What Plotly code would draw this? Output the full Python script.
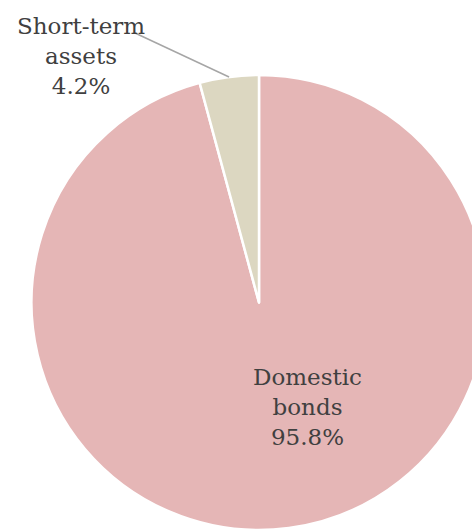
import math
import plotly.graph_objects as go

# ---- data ----
categories = ["Domestic bonds", "Short-term assets"]
display_labels = ["Domestic<br>bonds", "Short-term<br>assets"]
values = [95.8, 4.2]
colors = ["#E5B6B6", "#DCD7C1"]

# ---- layout geometry ----
W, H = 490, 535
dom_x = [31 / W, 487 / W]
dom_y = [1 - 530 / H, 1 - 75 / H]

FONT = "DejaVu Serif"
TXT = "#404040"

fig = go.Figure()
fig.add_trace(go.Pie(
    labels=categories,
    values=values,
    text=display_labels,
    sort=False,
    direction="clockwise",
    rotation=0,
    marker=dict(colors=colors, line=dict(color="white", width=2.5)),
    textinfo="none",
    hoverinfo="label+percent",
    domain=dict(x=dom_x, y=dom_y),
    showlegend=False,
))

# leader line target: edge of the short-term slice at its mid angle
cx = (dom_x[0] + dom_x[1]) / 2 * W
cy = (1 - (dom_y[0] + dom_y[1]) / 2) * H
R = min((dom_x[1] - dom_x[0]) * W, (dom_y[1] - dom_y[0]) * H) / 2
total = sum(values)
mid = 360 - values[1] / total * 360 / 2
hx = cx + R * math.sin(math.radians(mid))
hy = cy - R * math.cos(math.radians(mid))

fig.add_shape(type="line", xref="paper", yref="paper",
              x0=135 / W, y0=1 - 33 / H, x1=hx / W, y1=1 - hy / H,
              line=dict(color="#A6A6A6", width=1.5))
fig.add_annotation(xref="paper", yref="paper", x=81 / W, y=1 - 56 / H,
                   text=f"{display_labels[1]}<br>{values[1]:.1f}%",
                   showarrow=False, xanchor="center", yanchor="middle",
                   font=dict(family=FONT, size=23, color=TXT))
fig.add_annotation(xref="paper", yref="paper", x=307 / W, y=1 - 407 / H,
                   text=f"{display_labels[0]}<br>{values[0]:.1f}%",
                   showarrow=False, xanchor="center", yanchor="middle",
                   font=dict(family=FONT, size=23, color=TXT))

fig.update_layout(
    width=W, height=H,
    margin=dict(l=0, r=0, t=0, b=0),
    paper_bgcolor="white",
    plot_bgcolor="white",
    font=dict(family=FONT, color=TXT),
)

fig.write_html("out.html", config={"displayModeBar": False}, post_script=(
    "document.body.style.margin='0';"
    "document.body.style.overflow='hidden';"
    "document.documentElement.style.overflow='hidden';"
))
